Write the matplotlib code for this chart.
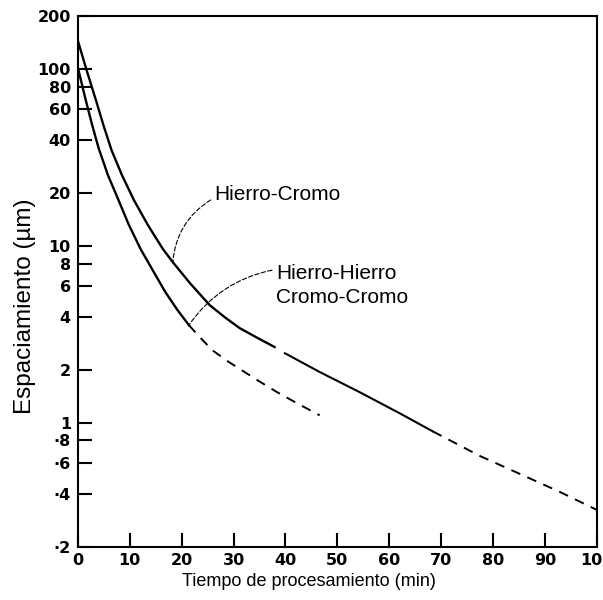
import matplotlib
matplotlib.use("Agg")
import matplotlib.pyplot as plt
from matplotlib.ticker import FixedLocator, FixedFormatter, NullLocator

# ---- data ----
# Hierro-Cromo (upper curve)
fecr_solid1_x = [0, 1.7, 3.5, 5.0, 6.5, 8.5, 10.8, 13.5, 16.4, 18.3, 21.6, 25.4, 28.3, 31.2, 34.7, 37.9]
fecr_solid1_y = [146, 99, 67, 47.8, 35.0, 25.3, 18.3, 13.2, 9.66, 8.15, 6.2, 4.66, 3.98, 3.45, 3.03, 2.70]
fecr_solid2_x = [39.9, 46.6, 54.3, 62.0, 68.4]
fecr_solid2_y = [2.49, 1.95, 1.50, 1.14, 0.90]
fecr_dash_x = [68.4, 77.5, 85.2, 92.9, 100]
fecr_dash_y = [0.90, 0.653, 0.517, 0.409, 0.324]

# Hierro-Hierro / Cromo-Cromo (lower curve)
fefe_solid_x = [0, 0.77, 1.54, 2.7, 4.0, 5.8, 7.7, 9.8, 12.1, 14.5, 16.8, 19.1, 21.4]
fefe_solid_y = [103, 83, 67, 49.4, 36.0, 25.3, 18.7, 13.3, 9.66, 7.28, 5.56, 4.41, 3.59]
fefe_dash_x = [21.4, 23.5, 26.0, 28.7, 31.2, 34.5, 38.4, 42.2, 46.6]
fefe_dash_y = [3.59, 3.07, 2.58, 2.26, 2.03, 1.76, 1.50, 1.30, 1.11]

x_ticks = [0, 10, 20, 30, 40, 50, 60, 70, 80, 90, 100]
x_ticklabels = ["0", "10", "20", "30", "40", "50", "60", "70", "80", "90", "100"]
y_ticks = [200, 100, 80, 60, 40, 20, 10, 8, 6, 4, 2, 1, 0.8, 0.6, 0.4, 0.2]
y_ticklabels = ["200", "100", "80", "60", "40", "20", "10", "8", "6", "4", "2",
                "1", "·8", "·6", "·4", "·2"]

label_fecr = "Hierro-Cromo"
label_fefe = "Hierro-Hierro\nCromo-Cromo"

# ---- figure ----
fig = plt.figure(figsize=(6.03, 6.0), dpi=100)
ax = fig.add_axes([0.129, 0.0883, 0.861, 0.8847])
ax.set_yscale("log")
ax.set_xlim(0, 100)
ax.set_ylim(0.2, 200)

lc = "black"
ax.plot(fecr_solid1_x, fecr_solid1_y, color=lc, lw=1.7)
ax.plot(fecr_solid2_x, fecr_solid2_y, color=lc, lw=1.5)
ax.plot(fecr_dash_x, fecr_dash_y, color=lc, lw=1.4, ls=(0, (5, 4)))
ax.plot(fefe_solid_x, fefe_solid_y, color=lc, lw=1.7)
ax.plot(fefe_dash_x, fefe_dash_y, color=lc, lw=1.4, ls=(0, (5, 4)))

# annotations
ax.text(26.2, 19.7, label_fecr, ha="left", va="center",
        family="Liberation Sans", fontsize=15)
ax.annotate("", xy=(18.3, 8.15), xytext=(25.6, 18.3),
            arrowprops=dict(arrowstyle="-", lw=0.8, ls=(0, (4, 2)),
                            connectionstyle="arc3,rad=0.25",
                            shrinkA=0, shrinkB=0))
ax.text(38.2, 6.0, label_fefe, ha="left", va="center",
        family="Liberation Sans", fontsize=15, linespacing=1.3)
ax.annotate("", xy=(21.4, 3.59), xytext=(37.4, 7.34),
            arrowprops=dict(arrowstyle="-", lw=0.8, ls=(0, (4, 2)),
                            connectionstyle="arc3,rad=0.2",
                            shrinkA=0, shrinkB=0))

# axes styling
ax.xaxis.set_major_locator(FixedLocator(x_ticks))
ax.xaxis.set_major_formatter(FixedFormatter(x_ticklabels))
ax.yaxis.set_major_locator(FixedLocator(y_ticks))
ax.yaxis.set_major_formatter(FixedFormatter(y_ticklabels))
ax.yaxis.set_minor_locator(NullLocator())
ax.xaxis.set_minor_locator(NullLocator())
ax.tick_params(direction="in", length=10, width=1.5, top=False, right=False)
ax.tick_params(axis="y", pad=5)
ax.tick_params(axis="x", pad=4)
for lab in ax.get_xticklabels() + ax.get_yticklabels():
    lab.set_fontweight("bold")
    lab.set_fontsize(11.5)
    lab.set_family("DejaVu Sans")
for sp in ax.spines.values():
    sp.set_linewidth(1.5)

ax.set_xlabel("Tiempo de procesamiento (min)", family="Liberation Sans",
              fontsize=13)
ax.xaxis.set_label_coords(0.445, -0.049)
ax.set_ylabel("Espaciamiento (µm)", family="Liberation Sans", fontsize=17.5)
ax.yaxis.set_label_coords(-0.081, 0.454)

fig.savefig("out.png", dpi=100)
